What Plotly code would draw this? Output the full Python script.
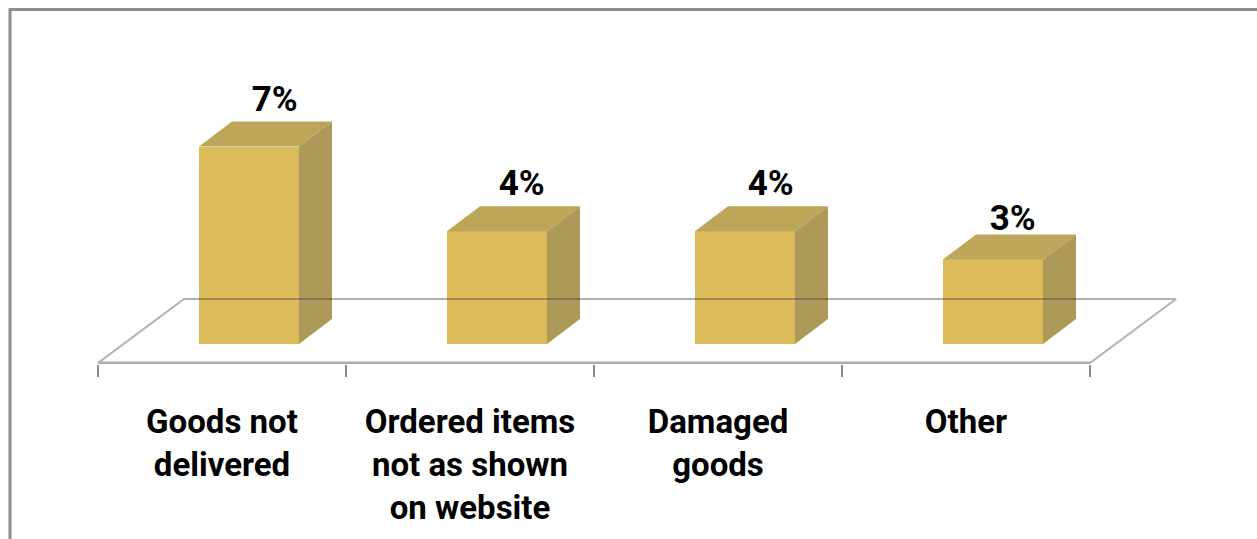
import plotly.graph_objects as go

# Survey results
categories = ["Goods not delivered", "Ordered items not as shown on website", "Damaged goods", "Other"]
tick_labels = ["Goods not<br>delivered", "Ordered items<br>not as shown<br>on website", "Damaged<br>goods", "Other"]
values = [7, 4, 4, 3]

W, H = 1257, 539
AXIS_LEFT, AXIS_RIGHT = 98, 1090
AXIS_Y = 363
PX_PER_UNIT = 28.2           # vertical pixels per percentage point
PX_PER_CAT = (AXIS_RIGHT - AXIS_LEFT) / len(values)
BASE_PX = 344                # pixel row of the zero level on the bars' front face
PLOT_LEFT, PLOT_RIGHT, PLOT_BOTTOM = 90, 1200, AXIS_Y + 1

# Box proportions, in axis units
BAR_OFFSET = (199 - 222) / PX_PER_CAT
BAR_WIDTH = 100 / PX_PER_CAT
DEPTH_X = 33 / PX_PER_CAT
DEPTH_Y = 25 / PX_PER_UNIT
FLOOR_FRONT_Y = (BASE_PX - AXIS_Y) / PX_PER_UNIT
FLOOR_BACK_Y = (BASE_PX - 299) / PX_PER_UNIT
FLOOR_SHIFT = 86 / PX_PER_CAT

# Data-label placement relative to the box top, in pixels
LABEL_LIFT_PX = [2, 2, 2, -4]
LABEL_SHIFT_PX = [1, 0, 1, -5]

FRONT = "#DCBB5A"
TOP = "#BDA55A"
SIDE = "#AD9A58"
RULE = "rgba(60,60,60,0.4)"
FRAME = "#8C8C8C"
FONT = "Roboto"
VALUE_SIZE = 35
LABEL_SIZE = 33

positions = list(range(len(values)))
fig = go.Figure()

# Front faces
fig.add_trace(go.Bar(
    x=positions, y=values, offset=BAR_OFFSET, width=BAR_WIDTH,
    marker=dict(color=FRONT, line=dict(width=0)), hoverinfo="skip", showlegend=False,
))

# Top and side faces, derived from each value
for p, v in zip(positions, values):
    left = p + BAR_OFFSET
    right = left + BAR_WIDTH
    fig.add_trace(go.Scatter(
        x=[left, right, right + DEPTH_X, left + DEPTH_X, left],
        y=[v, v, v + DEPTH_Y, v + DEPTH_Y, v],
        fill="toself", fillcolor=TOP, mode="none", hoverinfo="skip", showlegend=False,
    ))
    fig.add_trace(go.Scatter(
        x=[right, right + DEPTH_X, right + DEPTH_X, right, right],
        y=[0, DEPTH_Y, v + DEPTH_Y, v, 0],
        fill="toself", fillcolor=SIDE, mode="none", hoverinfo="skip", showlegend=False,
    ))

# Floor outline of the 3D plot area, with a heavier front edge
x0, x1 = -0.5, len(values) - 0.5
fig.add_trace(go.Scatter(
    x=[x0, x0 + FLOOR_SHIFT, x1 + FLOOR_SHIFT, x1],
    y=[FLOOR_FRONT_Y, FLOOR_BACK_Y, FLOOR_BACK_Y, FLOOR_FRONT_Y],
    mode="lines", line=dict(color=RULE, width=2),
    hoverinfo="skip", showlegend=False,
))
fig.add_trace(go.Scatter(
    x=[x0, x1], y=[FLOOR_FRONT_Y, FLOOR_FRONT_Y],
    mode="lines", line=dict(color="#ABABAB", width=3),
    hoverinfo="skip", showlegend=False,
))

# Value labels above each box
fig.add_trace(go.Scatter(
    x=[p + BAR_OFFSET + BAR_WIDTH / 2 + DEPTH_X * 0.75 + dx / PX_PER_CAT
       for p, dx in zip(positions, LABEL_SHIFT_PX)],
    y=[v + DEPTH_Y + dy / PX_PER_UNIT for v, dy in zip(values, LABEL_LIFT_PX)],
    mode="text", text=[f"{v}%" for v in values], textposition="top center",
    textfont=dict(family=FONT, size=VALUE_SIZE, color="black", weight="bold"),
    cliponaxis=False, hoverinfo="skip", showlegend=False,
))

fig.update_layout(
    width=W, height=H, autosize=False,
    margin=dict(l=PLOT_LEFT, r=W - PLOT_RIGHT, t=0, b=H - PLOT_BOTTOM, pad=0),
    paper_bgcolor="white", plot_bgcolor="rgba(0,0,0,0)",
    bargap=0, showlegend=False,
    xaxis=dict(
        range=[x0 + (PLOT_LEFT - AXIS_LEFT) / PX_PER_CAT, x0 + (PLOT_RIGHT - AXIS_LEFT) / PX_PER_CAT],
        showgrid=False, zeroline=False, showline=False,
        tickmode="array", tickvals=positions, ticktext=tick_labels,
        ticks="", ticklabelstandoff=35,
        tickfont=dict(family=FONT, size=LABEL_SIZE, color="black", weight="bold"),
        tickangle=0,
        minor=dict(tickmode="array", tickvals=[x0 + i for i in range(len(values) + 1)],
                   ticks="outside", ticklen=12, tickwidth=2, tickcolor="#8C8C8C", showgrid=False),
    ),
    yaxis=dict(range=[(BASE_PX - PLOT_BOTTOM) / PX_PER_UNIT, BASE_PX / PX_PER_UNIT],
               visible=False, fixedrange=True),
    shapes=[
        # Chart frame: left and top edges running off the page
        dict(type="path", xref="paper", yref="paper", layer="below",
             path="M {l} {b} L {l} {t} L {r} {t}".format(
                 l=(10 - PLOT_LEFT) / (PLOT_RIGHT - PLOT_LEFT),
                 r=(1265 - PLOT_LEFT) / (PLOT_RIGHT - PLOT_LEFT),
                 t=(PLOT_BOTTOM - 9.5) / PLOT_BOTTOM,
                 b=(PLOT_BOTTOM - 545) / PLOT_BOTTOM),
             line=dict(color=FRAME, width=3)),
    ],
)

fig.write_html("out.html", config=dict(displayModeBar=False))
